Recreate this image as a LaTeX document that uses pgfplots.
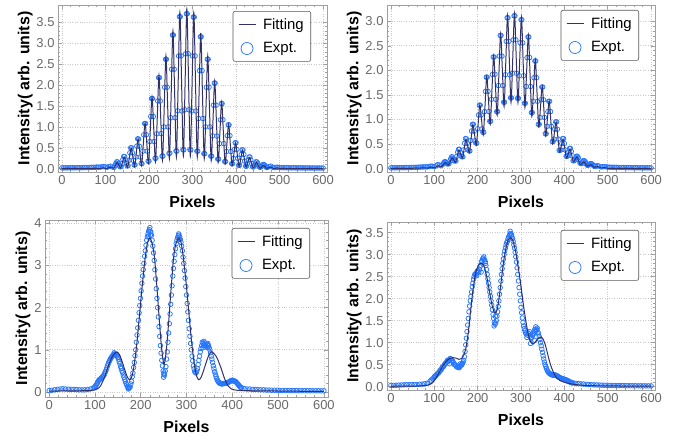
\documentclass[border=0pt]{standalone}
\usepackage{pgfplots}
\pgfplotsset{compat=1.18}
\usepackage{fontspec}
\setmainfont{Liberation Sans}

\definecolor{fitnavy}{RGB}{50,50,105}
\definecolor{exptblue}{RGB}{38,118,255}
\definecolor{framegray}{RGB}{160,160,160}
\definecolor{ticklabgray}{RGB}{105,105,105}
\definecolor{gridgray}{RGB}{200,200,200}

\pgfplotsset{
  panel/.style={
    scale only axis,
    anchor=south west,
    xmin=-9, xmax=609,
    xtick={0,100,...,600},
    minor x tick num=4,
    minor y tick num=4,
    tick align=inside,
    major tick length=4bp,
    minor tick length=2bp,
    tick style={framegray, line width=0.5bp},
    axis line style={framegray, line width=0.8bp},
    grid=major,
    major grid style={gridgray, dotted, line width=0.6bp},
    tick label style={font=\fontsize{13}{15}\selectfont, text=ticklabgray},
    /pgf/number format/assume math mode=true,
    xlabel={Pixels},
    ylabel={Intensity( arb. units)},
    label style={font=\fontsize{16}{19}\selectfont\bfseries},
    xlabel style={yshift=-4bp},
    ylabel style={yshift=-3bp},
    legend style={at={(1,1)}, anchor=north east, draw=black!65,
      rounded corners=2bp, line width=0.6bp,
      font=\fontsize{15}{18}\selectfont, row sep=8bp,
      inner xsep=5bp, inner ysep=5bp, cells={anchor=west},
      /tikz/column 1/.style={column sep=5bp}},
    legend cell align=left,
    reverse legend,
    clip marker paths=true,
  },
  onedec/.style={yticklabel style={/pgf/number format/.cd, fixed, fixed zerofill, precision=1}},
  exptplot/.style={only marks, mark=o, mark size=2.3bp,
    mark options={draw=exptblue, line width=0.75bp},
    legend image post style={mark size=6bp, line width=0.9bp}},
  fitplot/.style={fitnavy, line width=1bp, smooth, no markers,
    legend image code/.code={\path (0bp,0bp) -- (17bp,0bp);
      \draw[##1] (2.5bp,0bp) -- (14.5bp,0bp);}},
}

\begin{document}
\begin{tikzpicture}
\path[use as bounding box] (0,0) rectangle (674bp,440bp);

% ---------------- top left: interference fringes, sample A ----------------
\begin{axis}[panel, onedec, at={(58bp,268bp)}, width=269bp, height=167bp,
  ymin=-0.08, ymax=3.92, ytick={0,0.5,...,3.5},
  legend style={xshift=-16bp, yshift=-6bp}]
\addplot[exptplot] coordinates {
(0,0.02)(4,0.018)(8,0.02)(12,0.019)(16,0.021)(20,0.02)(24,0.022)(28,0.02)(32,0.023)(36,0.021)(40,0.024)(44,0.022)(48,0.025)(52,0.024)(56,0.028)(60,0.027)(64,0.03)(68,0.029)(72,0.033)(76,0.031)(80,0.04)(84,0.035)(88,0.038)(92,0.045)(96,0.05)(100,0.04)(104,0.035)(108,0.05)(112,0.06)(116,0.04)(120,0.03)(124,0.13)(128,0.16)(132,0.07)(136,0.05)(140,0.22)(144,0.29)(148,0.12)(152,0.07)(156,0.38)(160,0.5)(164,0.2)(168,0.09)(172,0.54)(176,0.71)(180,0.28)(184,0.12)(188,0.81)(192,1.08)(196,0.42)(200,0.18)(204,1.25)(208,1.68)(212,0.65)(216,0.25)(220,1.62)(224,2.18)(228,0.84)(232,0.3)(236,1.95)(240,2.62)(244,1.0)(248,0.37)(252,2.38)(256,3.2)(260,1.22)(264,0.42)(268,2.7)(272,3.64)(276,1.38)(280,0.45)(284,2.75)(288,3.71)(292,1.41)(296,0.45)(300,2.7)(304,3.63)(308,1.38)(312,0.42)(316,2.35)(320,3.16)(324,1.2)(328,0.36)(332,1.95)(336,2.62)(340,1.0)(344,0.3)(348,1.52)(352,2.05)(356,0.78)(360,0.23)(364,1.17)(368,1.56)(372,0.6)(376,0.17)(380,0.79)(384,1.05)(388,0.41)(392,0.12)(396,0.46)(400,0.62)(404,0.25)(408,0.08)(412,0.34)(416,0.45)(420,0.18)(424,0.06)(428,0.21)(432,0.28)(436,0.12)(440,0.04)(444,0.13)(448,0.16)(452,0.07)(456,0.035)(460,0.08)(464,0.1)(468,0.05)(472,0.03)(476,0.05)(480,0.06)(484,0.035)(488,0.025)(492,0.03)(496,0.035)(500,0.025)(504,0.024)(508,0.025)(512,0.022)(516,0.024)(520,0.021)(524,0.022)(528,0.02)(532,0.021)(536,0.02)(540,0.019)(544,0.02)(548,0.018)(552,0.019)(556,0.018)(560,0.017)(564,0.018)(568,0.017)(572,0.016)(576,0.017)(580,0.016)(584,0.016)(588,0.015)(592,0.016)(596,0.015)(600,0.015)
(122,0.075)(126,0.165)(130,0.127)(134,0.045)(138,0.12)(142,0.29)(146,0.22)(150,0.065)(154,0.2)(158,0.5)(162,0.38)(166,0.09)(170,0.28)(174,0.715)(178,0.535)(182,0.125)(186,0.42)(190,1.08)(194,0.81)(198,0.18)(202,0.65)(206,1.68)(210,1.25)(214,0.25)(218,0.835)(222,2.18)(226,1.62)(230,0.3)(234,1.0)(238,2.62)(242,1.95)(246,0.365)(250,1.22)(254,3.2)(258,2.38)(262,0.425)(266,1.385)(270,3.64)(274,2.7)(278,0.455)(282,1.41)(286,3.71)(290,2.755)(294,0.455)(298,1.38)(302,3.63)(306,2.7)(310,0.42)(314,1.2)(318,3.16)(322,2.35)(326,0.36)(330,1.0)(334,2.62)(338,1.95)(342,0.3)(346,0.785)(350,2.05)(354,1.52)(358,0.23)(362,0.6)(366,1.56)(370,1.17)(374,0.17)(378,0.41)(382,1.05)(386,0.79)(390,0.12)(394,0.245)(398,0.62)(402,0.46)(406,0.08)(410,0.18)(414,0.45)(418,0.34)(422,0.06)(426,0.12)(430,0.28)(434,0.21)(438,0.045)(442,0.075)(446,0.165)(450,0.127)(454,0.035)(458,0.05)(462,0.1)(466,0.08)(470,0.03)
};
\addlegendentry{Expt.}
\addplot[fitplot] coordinates {
(0,0)(20,0)(40,0.001)(60,0.002)(79,0.005)(83,0.003)(87,0.001)(91,0.01)(95,0.02)(99,0.011)(103,0.002)(107,0.021)(111,0.04)(115,0.024)(119,0.008)(123,0.079)(127,0.15)(131,0.083)(135,0.017)(139,0.148)(143,0.28)(147,0.155)(151,0.031)(155,0.265)(159,0.5)(163,0.275)(167,0.049)(171,0.385)(175,0.72)(179,0.397)(183,0.073)(187,0.587)(191,1.1)(195,0.607)(199,0.113)(203,0.917)(207,1.72)(211,0.939)(215,0.158)(219,1.199)(223,2.24)(227,1.219)(231,0.198)(235,1.449)(239,2.7)(243,1.47)(247,0.24)(251,1.77)(255,3.3)(259,1.791)(263,0.282)(267,2.016)(271,3.75)(275,2.027)(279,0.303)(283,2.062)(287,3.82)(291,2.061)(295,0.302)(299,2.021)(303,3.74)(307,2.01)(311,0.28)(315,1.765)(319,3.25)(323,1.744)(327,0.238)(331,1.469)(335,2.7)(339,1.446)(343,0.192)(347,1.146)(351,2.1)(355,1.124)(359,0.148)(363,0.874)(367,1.6)(371,0.854)(375,0.107)(379,0.589)(383,1.07)(387,0.569)(391,0.068)(395,0.344)(399,0.62)(403,0.332)(407,0.043)(411,0.247)(415,0.45)(419,0.24)(423,0.029)(427,0.15)(431,0.27)(435,0.144)(439,0.017)(443,0.084)(447,0.15)(451,0.08)(455,0.009)(459,0.045)(463,0.08)(467,0.043)(471,0.005)(475,0.023)(479,0.04)(483,0.021)(487,0.002)(491,0.009)(495,0.015)(499,0.008)(503,0.001)(520,0.001)(540,0)(560,0)(580,0)(600,0)
};
\addlegendentry{Fitting}
\end{axis}

% ---------------- top right: interference fringes, sample B ----------------
\begin{axis}[panel, onedec, at={(387bp,268bp)}, width=268bp, height=167bp,
  ymin=-0.07, ymax=3.33, ytick={0,0.5,...,3.0},
  legend style={xshift=-16bp, yshift=-5bp}]
\addplot[exptplot] coordinates {
(0,0.015)(4,0.016)(8,0.015)(12,0.017)(16,0.016)(20,0.018)(24,0.017)(28,0.019)(32,0.018)(36,0.02)(40,0.021)(44,0.02)(48,0.023)(52,0.022)(56,0.025)(60,0.026)(64,0.028)(68,0.03)(72,0.032)(76,0.034)(80,0.035)(84,0.035)(88,0.04)(92,0.05)(96,0.045)(100,0.04)(104,0.056)(108,0.08)(112,0.07)(116,0.06)(120,0.09)(124,0.14)(128,0.12)(132,0.1)(136,0.15)(140,0.24)(144,0.2)(148,0.16)(152,0.25)(156,0.39)(160,0.33)(164,0.24)(168,0.38)(172,0.61)(176,0.51)(180,0.36)(184,0.57)(188,0.9)(192,0.76)(196,0.52)(200,0.81)(204,1.29)(208,1.09)(212,0.74)(216,1.16)(220,1.86)(224,1.57)(228,0.96)(232,1.41)(236,2.27)(240,1.92)(244,1.16)(248,1.69)(252,2.71)(256,2.29)(260,1.35)(264,1.91)(268,3.07)(272,2.59)(276,1.44)(280,1.94)(284,3.11)(288,2.62)(292,1.43)(296,1.89)(300,3.03)(304,2.56)(308,1.33)(312,1.67)(316,2.68)(320,2.26)(324,1.14)(328,1.37)(332,2.19)(336,1.85)(340,0.9)(344,1.04)(348,1.66)(352,1.4)(356,0.71)(360,0.86)(364,1.37)(368,1.16)(372,0.55)(376,0.6)(380,0.95)(384,0.8)(388,0.37)(392,0.38)(396,0.61)(400,0.51)(404,0.25)(408,0.26)(412,0.41)(416,0.35)(420,0.16)(424,0.17)(428,0.25)(432,0.22)(436,0.11)(440,0.1)(444,0.16)(448,0.14)(452,0.07)(456,0.07)(460,0.1)(464,0.09)(468,0.05)(472,0.045)(476,0.06)(480,0.05)(484,0.035)(488,0.035)(492,0.04)(496,0.035)(500,0.03)(504,0.028)(508,0.027)(512,0.026)(516,0.025)(520,0.024)(524,0.023)(528,0.022)(532,0.022)(536,0.021)(540,0.02)(544,0.02)(548,0.019)(552,0.019)(556,0.018)(560,0.018)(564,0.017)(568,0.017)(572,0.016)(576,0.016)(580,0.016)(584,0.015)(588,0.015)(592,0.015)(596,0.015)(600,0.014)
(122,0.12)(126,0.137)(130,0.093)(134,0.097)(138,0.2)(142,0.235)(146,0.153)(150,0.156)(154,0.333)(158,0.392)(162,0.25)(166,0.241)(170,0.514)(174,0.607)(178,0.384)(182,0.359)(186,0.762)(190,0.9)(194,0.565)(198,0.517)(202,1.09)(206,1.29)(210,0.808)(214,0.739)(218,1.57)(222,1.86)(226,1.16)(230,0.965)(234,1.915)(238,2.27)(242,1.41)(246,1.16)(250,2.29)(254,2.71)(258,1.69)(262,1.35)(266,2.59)(270,3.07)(274,1.91)(278,1.44)(282,2.62)(286,3.11)(290,1.94)(294,1.43)(298,2.56)(302,3.03)(306,1.89)(310,1.33)(314,2.26)(318,2.68)(322,1.67)(326,1.14)(330,1.85)(334,2.19)(338,1.37)(342,0.9)(346,1.4)(350,1.66)(354,1.04)(358,0.71)(362,1.16)(366,1.37)(370,0.86)(374,0.55)(378,0.8)(382,0.95)(386,0.6)(390,0.37)(394,0.51)(398,0.61)(402,0.38)(406,0.25)(410,0.35)(414,0.41)(418,0.26)(422,0.16)(426,0.22)(430,0.25)(434,0.17)(438,0.11)(442,0.14)(446,0.16)(450,0.1)(454,0.07)(458,0.09)(462,0.1)(466,0.07)(470,0.05)
};
\addlegendentry{Expt.}
\addplot[fitplot] coordinates {
(0,0.002)(20,0.003)(40,0.005)(60,0.008)(77,0.015)(81,0.013)(85,0.01)(89,0.02)(93,0.03)(97,0.025)(101,0.019)(105,0.04)(109,0.06)(113,0.05)(117,0.039)(121,0.08)(125,0.12)(129,0.097)(133,0.073)(137,0.147)(141,0.22)(145,0.175)(149,0.129)(153,0.255)(157,0.38)(161,0.296)(165,0.211)(169,0.406)(173,0.6)(177,0.462)(181,0.323)(185,0.612)(189,0.9)(193,0.687)(197,0.473)(201,0.887)(205,1.3)(209,0.992)(213,0.684)(217,1.282)(221,1.88)(225,1.39)(229,0.899)(233,1.6)(237,2.3)(241,1.693)(245,1.086)(249,1.918)(253,2.75)(257,2.006)(261,1.262)(265,2.191)(269,3.12)(273,2.235)(277,1.35)(281,2.255)(285,3.16)(289,2.251)(293,1.342)(297,2.211)(301,3.08)(305,2.164)(309,1.247)(313,1.984)(317,2.72)(321,1.891)(325,1.062)(329,1.641)(333,2.22)(337,1.53)(341,0.839)(345,1.26)(349,1.68)(353,1.169)(357,0.658)(361,1.019)(365,1.38)(369,0.941)(373,0.501)(377,0.726)(381,0.95)(385,0.642)(389,0.333)(393,0.467)(397,0.6)(401,0.408)(405,0.215)(409,0.308)(413,0.4)(417,0.269)(421,0.138)(425,0.189)(429,0.24)(433,0.161)(437,0.082)(441,0.111)(445,0.14)(449,0.094)(453,0.047)(457,0.064)(461,0.08)(465,0.053)(469,0.026)(473,0.033)(477,0.04)(481,0.027)(485,0.013)(489,0.017)(493,0.02)(497,0.013)(501,0.005)(520,0.003)(540,0.002)(560,0.001)(580,0.001)(600,0.001)
};
\addlegendentry{Fitting}
\end{axis}

% ---------------- bottom left: two-peak profile, sample C ----------------
\begin{axis}[panel, at={(45bp,43bp)}, width=283bp, height=177bp,
  ymin=-0.12, ymax=4.08, ytick={0,1,...,4},
  legend style={xshift=-18bp, yshift=-8bp}]
\addplot[exptplot] coordinates {
(0,0.03)(6,0.04)(12,0.05)(18,0.06)(24,0.07)(30,0.075)(36,0.07)(42,0.065)(48,0.06)(54,0.06)(60,0.055)(66,0.05)(72,0.05)(78,0.05)(84,0.06)(90,0.07)(96,0.09)(99,0.11)(102,0.15)(105,0.2)(108,0.27)(111,0.3)(114,0.33)(117,0.36)(120,0.4)(123,0.48)(126,0.57)(129,0.66)(132,0.74)(135,0.8)(138,0.85)(141,0.88)(144,0.9)(147,0.87)(150,0.82)(153,0.72)(156,0.6)(159,0.5)(162,0.4)(165,0.3)(168,0.2)(171,0.13)(174,0.09)(177,0.12)(180,0.25)(183,0.45)(186,0.7)(189,1.0)(192,1.35)(195,1.7)(198,2.05)(201,2.4)(204,2.75)(207,3.05)(210,3.35)(213,3.6)(216,3.75)(219,3.85)(222,3.8)(225,3.6)(228,3.3)(231,2.9)(234,2.45)(237,2.0)(240,1.55)(243,1.1)(246,0.75)(249,0.5)(252,0.4)(255,0.6)(258,0.95)(261,1.4)(264,1.85)(267,2.3)(270,2.75)(273,3.1)(276,3.4)(279,3.6)(282,3.7)(285,3.68)(288,3.55)(291,3.35)(294,3.05)(297,2.7)(300,2.3)(303,1.9)(306,1.5)(309,1.15)(312,0.85)(315,0.62)(318,0.48)(321,0.45)(324,0.55)(327,0.75)(330,0.95)(333,1.1)(336,1.15)(339,1.12)(342,1.1)(345,1.13)(348,1.1)(351,1.0)(354,0.85)(357,0.7)(360,0.55)(363,0.42)(366,0.32)(369,0.25)(372,0.21)(375,0.2)(378,0.19)(381,0.2)(384,0.2)(387,0.21)(390,0.22)(393,0.24)(396,0.26)(399,0.27)(402,0.26)(405,0.26)(408,0.24)(411,0.2)(414,0.16)(417,0.12)(420,0.1)(426,0.08)(432,0.07)(438,0.07)(444,0.06)(450,0.06)(456,0.055)(462,0.05)(468,0.05)(474,0.045)(480,0.045)(486,0.04)(492,0.04)(498,0.04)(504,0.035)(510,0.035)(516,0.034)(522,0.033)(528,0.032)(534,0.032)(540,0.031)(546,0.03)(552,0.03)(558,0.03)(564,0.029)(570,0.029)(576,0.028)(582,0.028)(588,0.028)(594,0.027)(600,0.027)
(217,3.7)(220,3.9)(221,3.72)(283,3.75)(284,3.62)(338,1.2)(346,1.05)(250,0.35)(251,0.45)(173,0.07)(142,0.93)(336,1.05)
(100.5,0.13)(103.5,0.18)(106.5,0.24)(109.5,0.29)(112.5,0.31)(115.5,0.35)(118.5,0.39)(121.5,0.45)(124.5,0.52)(127.5,0.62)(130.5,0.71)(133.5,0.78)(136.5,0.83)(139.5,0.87)(142.5,0.9)(145.5,0.89)(148.5,0.85)(151.5,0.78)(154.5,0.67)(157.5,0.56)(160.5,0.46)(163.5,0.35)(166.5,0.25)(169.5,0.17)(172.5,0.1)(175.5,0.1)(178.5,0.19)(181.5,0.36)(184.5,0.58)(187.5,0.86)(190.5,1.18)(193.5,1.52)(196.5,1.88)(199.5,2.22)(202.5,2.58)(205.5,2.9)(208.5,3.22)(211.5,3.48)(214.5,3.68)(217.5,3.82)(220.5,3.8)(223.5,3.72)(226.5,3.46)(229.5,3.12)(232.5,2.68)(235.5,2.22)(238.5,1.78)(241.5,1.32)(244.5,0.92)(247.5,0.62)(250.5,0.42)(253.5,0.5)(256.5,0.78)(259.5,1.18)(262.5,1.62)(265.5,2.08)(268.5,2.52)(271.5,2.93)(274.5,3.26)(277.5,3.52)(280.5,3.66)(283.5,3.72)(286.5,3.62)(289.5,3.46)(292.5,3.2)(295.5,2.88)(298.5,2.5)(301.5,2.1)(304.5,1.7)(307.5,1.32)(310.5,1.0)(313.5,0.74)(316.5,0.55)(319.5,0.46)(322.5,0.5)(325.5,0.65)(328.5,0.85)(331.5,1.03)(334.5,1.18)(337.5,1.1)(340.5,1.16)(343.5,1.08)(346.5,1.15)(349.5,1.05)(352.5,0.93)(355.5,0.78)(358.5,0.62)(361.5,0.48)(364.5,0.37)(367.5,0.28)(370.5,0.23)(373.5,0.21)(376.5,0.19)(379.5,0.2)(382.5,0.2)(385.5,0.21)(388.5,0.22)(391.5,0.23)(394.5,0.25)(397.5,0.27)(400.5,0.28)(403.5,0.26)(406.5,0.25)(409.5,0.22)(412.5,0.18)(415.5,0.14)(418.5,0.11)
};
\addlegendentry{Expt.}
\addplot[fitplot] coordinates {
(0,0.02)(40,0.025)(80,0.03)(95,0.04)(105,0.07)(112,0.14)(120,0.32)(128,0.58)(136,0.8)(142,0.9)(148,0.95)(154,0.88)(160,0.7)(166,0.5)(171,0.35)(176,0.29)(181,0.38)(186,0.66)(192,1.2)(198,1.9)(204,2.6)(210,3.2)(215,3.55)(220,3.65)(225,3.52)(230,3.2)(236,2.4)(241,1.65)(246,1.0)(251,0.65)(256,1.0)(261,1.65)(266,2.4)(272,3.2)(277,3.52)(283,3.65)(288,3.55)(293,3.2)(299,2.6)(305,1.9)(311,1.2)(317,0.66)(322,0.38)(327,0.29)(332,0.35)(337,0.5)(343,0.7)(349,0.88)(355,0.95)(361,0.9)(367,0.8)(375,0.58)(383,0.32)(391,0.14)(398,0.07)(410,0.04)(430,0.03)(470,0.025)(520,0.02)(560,0.015)(600,0.015)
};
\addlegendentry{Fitting}
\end{axis}

% ---------------- bottom right: two-peak profile, sample D ----------------
\begin{axis}[panel, onedec, at={(387bp,50bp)}, width=268bp, height=168bp,
  ymin=-0.075, ymax=3.74, ytick={0,0.5,...,3.5},
  legend style={xshift=-16bp, yshift=-8bp}]
\addplot[exptplot] coordinates {
(0,0.03)(6,0.03)(12,0.032)(18,0.035)(24,0.04)(30,0.042)(36,0.045)(42,0.045)(48,0.047)(54,0.05)(60,0.05)(66,0.055)(72,0.06)(78,0.065)(84,0.08)(90,0.12)(93,0.15)(96,0.18)(99,0.2)(102,0.24)(105,0.27)(108,0.3)(111,0.33)(114,0.37)(117,0.41)(120,0.45)(123,0.49)(126,0.53)(129,0.57)(132,0.59)(135,0.61)(138,0.63)(141,0.6)(144,0.55)(147,0.5)(150,0.48)(153,0.45)(156,0.44)(159,0.46)(162,0.49)(165,0.53)(168,0.6)(171,0.8)(174,1.1)(177,1.4)(180,1.7)(183,1.95)(186,2.15)(189,2.35)(192,2.5)(195,2.56)(198,2.6)(201,2.62)(204,2.66)(207,2.76)(210,2.86)(213,2.92)(216,2.88)(219,2.75)(222,2.55)(225,2.35)(228,2.15)(231,1.95)(234,1.75)(237,1.55)(240,1.42)(243,1.5)(246,1.7)(249,1.95)(252,2.25)(255,2.55)(258,2.8)(261,3.0)(264,3.15)(267,3.27)(270,3.36)(273,3.43)(276,3.48)(279,3.4)(282,3.3)(285,3.15)(288,2.95)(291,2.7)(294,2.4)(297,2.1)(300,1.8)(303,1.56)(306,1.38)(309,1.27)(312,1.2)(315,1.17)(318,1.2)(321,1.15)(324,1.12)(327,1.16)(330,1.22)(333,1.28)(336,1.3)(339,1.24)(342,1.14)(345,1.0)(348,0.85)(351,0.7)(354,0.56)(357,0.46)(360,0.38)(363,0.33)(366,0.3)(369,0.28)(372,0.27)(375,0.26)(378,0.27)(381,0.25)(384,0.24)(387,0.22)(390,0.2)(393,0.19)(396,0.18)(399,0.17)(402,0.16)(405,0.15)(408,0.13)(411,0.12)(414,0.1)(417,0.09)(420,0.085)(426,0.075)(432,0.07)(438,0.065)(444,0.06)(450,0.055)(456,0.05)(462,0.045)(468,0.042)(474,0.04)(480,0.037)(486,0.035)(492,0.033)(498,0.03)(504,0.03)(510,0.028)(516,0.027)(522,0.026)(528,0.025)(534,0.025)(540,0.024)(546,0.023)(552,0.022)(558,0.022)(564,0.021)(570,0.02)(576,0.02)(582,0.02)(588,0.019)(594,0.019)(600,0.018)
(208,2.6)(214,2.95)(218,2.8)(238,1.38)(241,1.6)(275,3.53)(278,3.45)(334,1.36)(332,1.05)(322,0.98)(198,2.52)(135,0.52)(160,0.52)
(100.5,0.23)(103.5,0.25)(106.5,0.29)(109.5,0.31)(112.5,0.36)(115.5,0.38)(118.5,0.44)(121.5,0.46)(124.5,0.52)(127.5,0.54)(130.5,0.6)(133.5,0.58)(136.5,0.64)(139.5,0.6)(142.5,0.58)(145.5,0.51)(148.5,0.5)(151.5,0.45)(154.5,0.46)(157.5,0.43)(160.5,0.48)(163.5,0.5)(166.5,0.56)(169.5,0.68)(172.5,0.95)(175.5,1.25)(178.5,1.55)(181.5,1.83)(184.5,2.05)(187.5,2.27)(190.5,2.44)(193.5,2.55)(196.5,2.55)(199.5,2.63)(202.5,2.6)(205.5,2.72)(208.5,2.83)(211.5,2.9)(214.5,2.88)(217.5,2.84)(220.5,2.66)(223.5,2.45)(226.5,2.25)(229.5,2.05)(232.5,1.85)(235.5,1.64)(238.5,1.46)(241.5,1.44)(244.5,1.6)(247.5,1.82)(250.5,2.1)(253.5,2.4)(256.5,2.68)(259.5,2.9)(262.5,3.08)(265.5,3.22)(268.5,3.3)(271.5,3.4)(274.5,3.46)(277.5,3.44)(280.5,3.36)(283.5,3.22)(286.5,3.05)(289.5,2.83)(292.5,2.55)(295.5,2.25)(298.5,1.95)(301.5,1.68)(304.5,1.46)(307.5,1.32)(310.5,1.22)(313.5,1.12)(316.5,1.22)(319.5,1.25)(322.5,1.1)(325.5,1.18)(328.5,1.2)(331.5,1.3)(334.5,1.26)(337.5,1.33)(340.5,1.2)(343.5,1.07)(346.5,0.93)(349.5,0.78)(352.5,0.63)(355.5,0.5)(358.5,0.42)(361.5,0.35)(364.5,0.31)(367.5,0.29)(370.5,0.27)(373.5,0.27)(376.5,0.26)(379.5,0.26)(382.5,0.25)(385.5,0.23)(388.5,0.21)(391.5,0.2)(394.5,0.18)(397.5,0.18)(400.5,0.16)(403.5,0.155)(406.5,0.14)(409.5,0.125)(412.5,0.11)(415.5,0.095)(418.5,0.088)
};
\addlegendentry{Expt.}
\addplot[fitplot] coordinates {
(0,0.01)(40,0.012)(70,0.02)(85,0.035)(95,0.08)(103,0.18)(110,0.3)(118,0.44)(126,0.56)(134,0.63)(142,0.66)(150,0.65)(157,0.62)(163,0.64)(168,0.72)(173,0.88)(178,1.2)(183,1.65)(188,2.1)(193,2.45)(198,2.67)(204,2.78)(210,2.8)(216,2.7)(222,2.45)(228,2.12)(234,1.82)(240,1.67)(245,1.75)(250,2.05)(255,2.45)(260,2.85)(266,3.18)(271,3.35)(276,3.38)(281,3.32)(287,3.1)(293,2.75)(299,2.35)(305,1.9)(311,1.5)(317,1.18)(322,1.02)(328,0.97)(334,1.03)(340,1.1)(345,1.13)(350,1.1)(356,0.95)(362,0.72)(368,0.5)(375,0.32)(382,0.2)(390,0.14)(400,0.1)(412,0.07)(425,0.05)(445,0.03)(480,0.02)(540,0.015)(600,0.012)
};
\addlegendentry{Fitting}
\end{axis}
\end{tikzpicture}
\end{document}
